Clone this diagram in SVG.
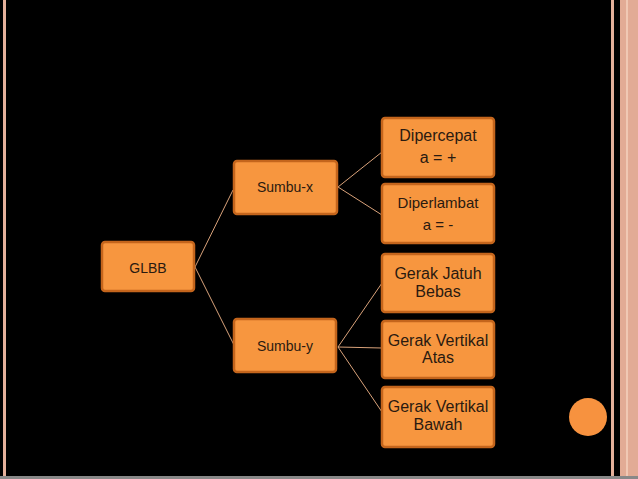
<svg xmlns="http://www.w3.org/2000/svg" width="638" height="479" viewBox="0 0 638 479">
<style>
.n rect{fill:#f7963f;stroke:#c4651c;stroke-width:2.5}
.n text{font-family:"Liberation Sans",Arial,sans-serif;fill:#2a1a10;text-anchor:middle}
.c line{stroke:#d9a27a;stroke-width:1}
</style>
<rect width="638" height="479" fill="#000"/>
<rect x="3" y="0" width="3" height="477" fill="#e4b09a"/>
<rect x="611" y="0" width="3" height="477" fill="#e4b09a"/>
<rect x="620" y="0" width="18" height="479" fill="#e2ab95"/>
<rect x="626" y="0" width="2" height="479" fill="#f0c8b4"/>
<rect x="0" y="476" width="638" height="3" fill="#888"/>
<g class="c">
<line x1="195" y1="267" x2="233" y2="190"/>
<line x1="195" y1="267" x2="234" y2="345"/>
<line x1="338" y1="187" x2="382" y2="152"/>
<line x1="338" y1="187" x2="382" y2="215"/>
<line x1="338" y1="347" x2="382" y2="283"/>
<line x1="338" y1="347" x2="382" y2="348"/>
<line x1="338" y1="347" x2="382" y2="412"/>
</g>
<g id="glbb" class="n"><rect x="102" y="242" width="92" height="49" rx="3"/><text x="148" y="273" font-size="14">GLBB</text></g>
<g id="sumbux" class="n"><rect x="234" y="161" width="103" height="53" rx="3"/><text x="285" y="192" font-size="14">Sumbu-x</text></g>
<g id="sumbuy" class="n"><rect x="234" y="319" width="102" height="53" rx="3"/><text x="285" y="351" font-size="14">Sumbu-y</text></g>
<g id="dipercepat" class="n"><rect x="382" y="118" width="112" height="59" rx="3"/><text x="438" y="141" font-size="16">Dipercepat</text><text x="438" y="163" font-size="16">a = +</text></g>
<g id="diperlambat" class="n"><rect x="382" y="184" width="112" height="59" rx="3"/><text x="438" y="208" font-size="15">Diperlambat</text><text x="438" y="230" font-size="15">a = -</text></g>
<g id="jatuh" class="n"><rect x="382" y="254" width="112" height="58" rx="3"/><text x="438" y="279" font-size="16">Gerak Jatuh</text><text x="438" y="297" font-size="16">Bebas</text></g>
<g id="atas" class="n"><rect x="382" y="321" width="112" height="57" rx="3"/><text x="438" y="346" font-size="16">Gerak Vertikal</text><text x="438" y="363" font-size="16">Atas</text></g>
<g id="bawah" class="n"><rect x="382" y="387" width="112" height="60" rx="3"/><text x="438" y="412" font-size="16">Gerak Vertikal</text><text x="438" y="430" font-size="16">Bawah</text></g>
<circle cx="588" cy="417" r="19" fill="#f7923f"/>
</svg>
